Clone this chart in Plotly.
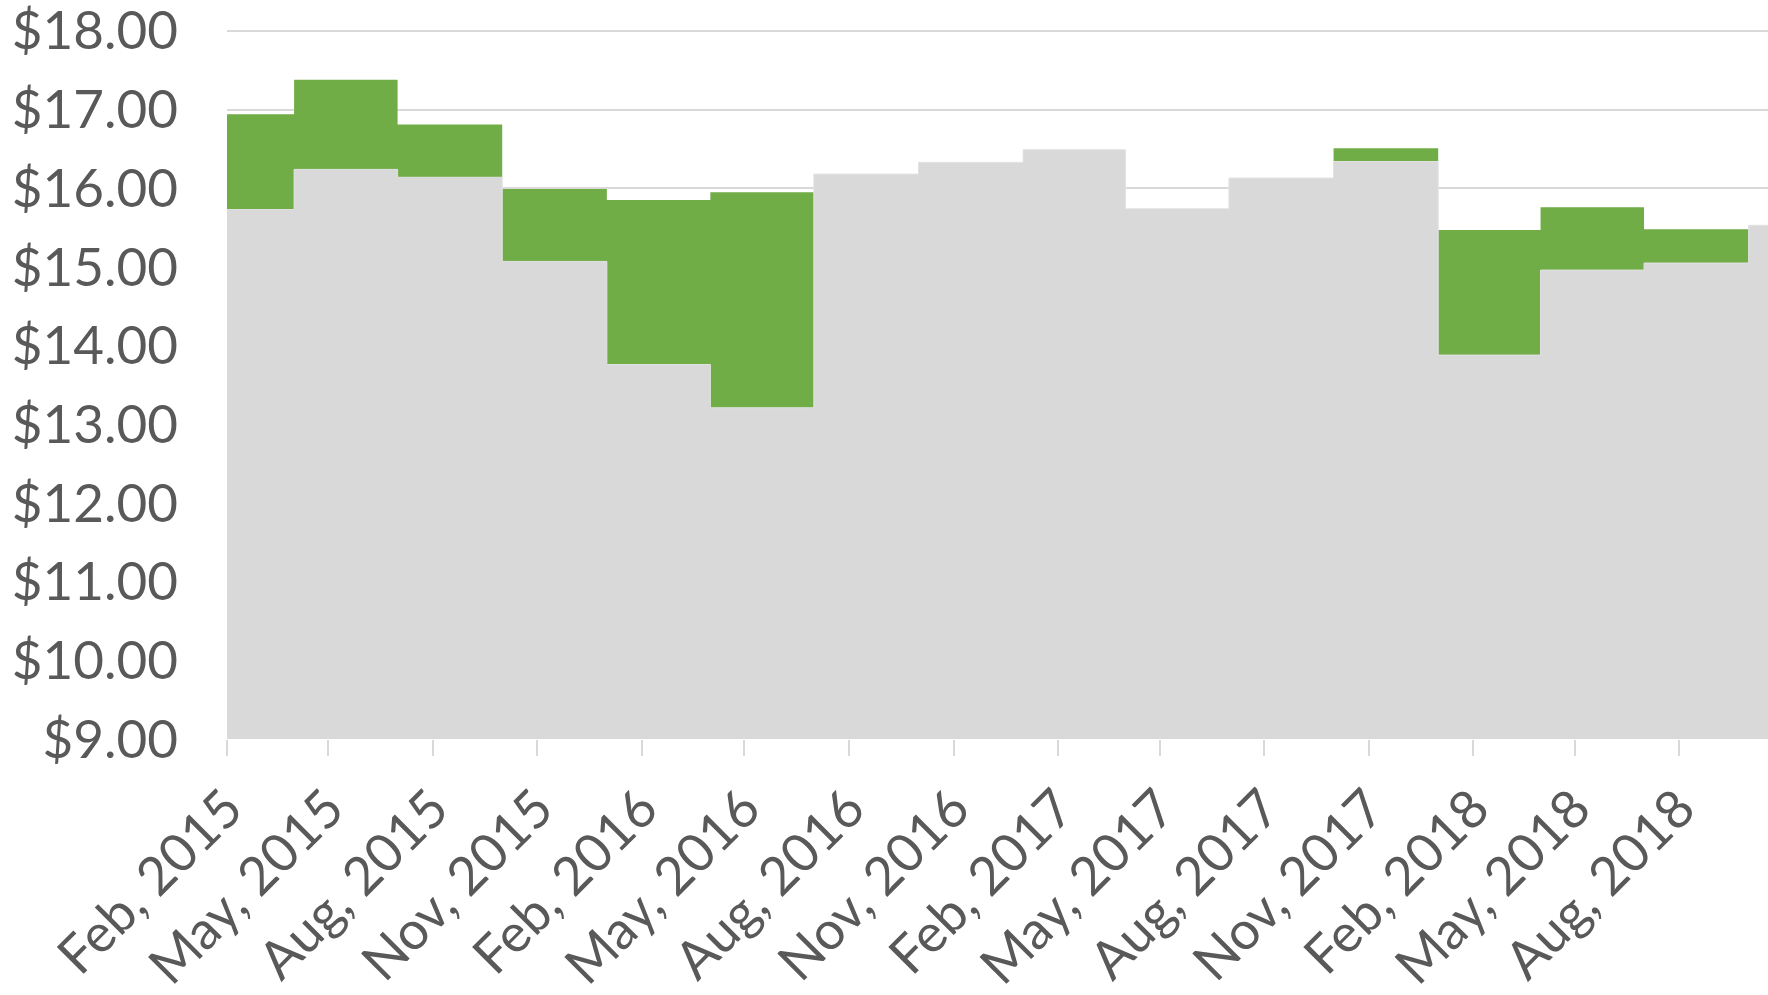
import plotly.graph_objects as go
import pandas as pd

# Quarterly observations (quarter start dates)
quarters = ["2015-01-01", "2015-04-01", "2015-07-01", "2015-10-01",
            "2016-01-01", "2016-04-01", "2016-07-01", "2016-10-01",
            "2017-01-01", "2017-04-01", "2017-07-01", "2017-10-01",
            "2018-01-01", "2018-04-01", "2018-07-01", "2018-10-01"]
# lower value (top of grey area)
low_values = [15.73, 16.24, 16.14, 15.07, 13.76, 13.21, 16.18, 16.33,
              16.49, 15.74, 16.13, 16.34, 13.88, 14.96, 15.05, 15.53]
# upper value (top of green band)
high_values = [16.94, 17.38, 16.81, 15.99, 15.85, 15.95, 16.18, 16.33,
               16.49, 15.74, 16.13, 16.51, 15.47, 15.76, 15.48, 15.53]

y_ticks = [9, 10, 11, 12, 13, 14, 15, 16, 17, 18]
y_tick_labels = ["$%.2f" % v for v in y_ticks]

# close the last step at the start of the following quarter
dates = pd.to_datetime(quarters)
dates_ext = list(dates) + [dates[-1] + pd.DateOffset(months=3)]
low_ext = low_values + [low_values[-1]]
high_ext = high_values + [high_values[-1]]

GREY = "#D9D9D9"
GREEN = "#70AD47"
TEXT = "#595959"
FONT = "Lato"

fig = go.Figure()
fig.add_trace(go.Scatter(
    x=dates_ext, y=low_ext, mode="lines", line=dict(shape="hv", width=1, color="#E2E2E2"),
    fill="tozeroy", fillcolor=GREY, hoverinfo="skip", showlegend=False))
fig.add_trace(go.Scatter(
    x=dates_ext, y=high_ext, mode="lines", line=dict(shape="hv", width=0, color=GREEN),
    fill="tonexty", fillcolor=GREEN, hoverinfo="skip", showlegend=False))

fig.update_layout(
    width=1768, height=995,
    margin=dict(l=227, r=0, t=26.5, b=256.4, autoexpand=False),
    paper_bgcolor="white", plot_bgcolor="white",
    font=dict(family=FONT, color=TEXT, size=53),
    xaxis=dict(
        type="date", automargin=False,
        range=["2015-02-01", "2018-10-18"],
        tick0="2015-02-01", dtick="M3", tickformat="%b, %Y",
        tickangle=-45, ticks="outside", ticklen=16, tickwidth=1.5, tickcolor=GREY,
        showgrid=False, showline=False, zeroline=False,
        tickfont=dict(family=FONT, size=53, color=TEXT),
    ),
    yaxis=dict(
        range=[9, 18.05], tickmode="array", tickvals=y_ticks, ticktext=y_tick_labels,
        automargin=False, ticklabeloverflow="allow",
        showgrid=True, gridcolor=GREY, gridwidth=1.5,
        zeroline=False, showline=False, ticks="",
        ticklabelstandoff=48,
        tickfont=dict(family=FONT, size=53, color=TEXT),
    ),
)

fig.write_html("out.html", config={"displayModeBar": False},
               post_script="document.body.style.margin='0';document.body.style.overflow='hidden';")
